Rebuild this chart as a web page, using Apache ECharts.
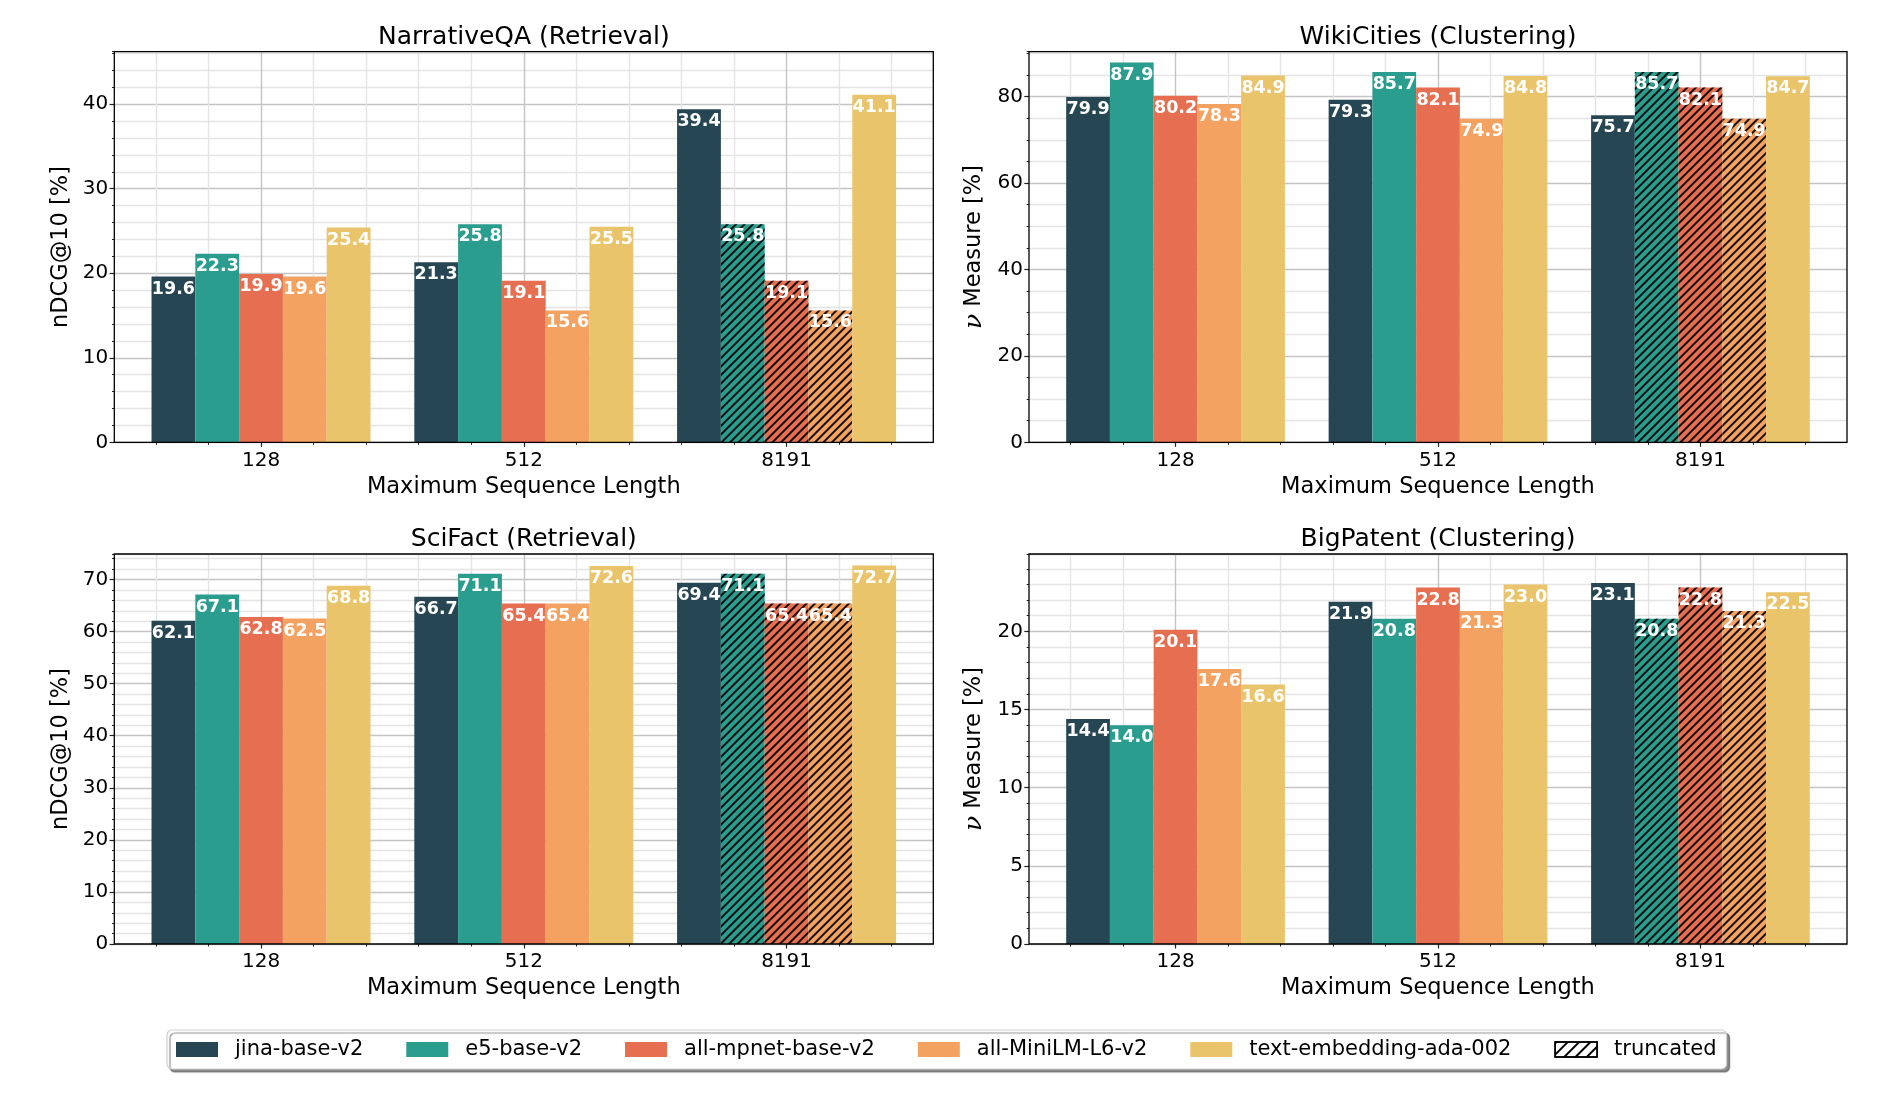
<!DOCTYPE html>
<html>
<head>
<meta charset="utf-8">
<script src="https://cdn.jsdelivr.net/npm/echarts@6/dist/echarts.min.js"></script>
<style>
  html, body { margin: 0; padding: 0; background: #fff; }
  #chart { width: 1900px; height: 1100px; }
</style>
</head>
<body>
<div id="chart"></div>
<script>
// categories and models
const categories = ['128', '512', '8191'];
const models = ['jina-base-v2', 'e5-base-v2', 'all-mpnet-base-v2', 'all-MiniLM-L6-v2', 'text-embedding-ada-002'];
const modelColors = ['#264653', '#2A9D8F', '#E76F51', '#F4A261', '#E9C46A'];
const truncatedModels = ['e5-base-v2', 'all-mpnet-base-v2', 'all-MiniLM-L6-v2'];
const truncatedCategory = '8191';

// NarrativeQA (Retrieval) - nDCG@10
const narrativeJina = [19.6, 21.3, 39.4];
const narrativeE5 = [22.3, 25.8, 25.8];
const narrativeMpnet = [19.9, 19.1, 19.1];
const narrativeMiniLM = [19.6, 15.6, 15.6];
const narrativeAda = [25.4, 25.5, 41.1];

// WikiCities (Clustering) - V measure
const wikiJina = [79.9, 79.3, 75.7];
const wikiE5 = [87.9, 85.7, 85.7];
const wikiMpnet = [80.2, 82.1, 82.1];
const wikiMiniLM = [78.3, 74.9, 74.9];
const wikiAda = [84.9, 84.8, 84.7];

// SciFact (Retrieval) - nDCG@10
const scifactJina = [62.1, 66.7, 69.4];
const scifactE5 = [67.1, 71.1, 71.1];
const scifactMpnet = [62.8, 65.4, 65.4];
const scifactMiniLM = [62.5, 65.4, 65.4];
const scifactAda = [68.8, 72.6, 72.7];

// BigPatent (Clustering) - V measure
const patentJina = [14.4, 21.9, 23.1];
const patentE5 = [14.0, 20.8, 20.8];
const patentMpnet = [20.1, 22.8, 22.8];
const patentMiniLM = [17.6, 21.3, 21.3];
const patentAda = [16.6, 23.0, 22.5];

const FONT = 'DejaVu Sans';
const X_LIM = [-0.55833, 2.55833];   // matplotlib xlim incl. 5% margin
const GRID_MAJOR = '#c4c4c4';
const GRID_MINOR = '#e4e4e4';

const panels = [
  { title: 'NarrativeQA (Retrieval)', yName: 'nDCG@10 [%]', yMax: 46.2, major: 10, minor: 2,
    values: [narrativeJina, narrativeE5, narrativeMpnet, narrativeMiniLM, narrativeAda],
    box: { left: 114.3, right: 933.3, top: 51.7, bottom: 442.3 } },
  { title: 'WikiCities (Clustering)', yName: '{nu|ν} Measure [%]', yMax: 90.4, major: 20, minor: 5,
    values: [wikiJina, wikiE5, wikiMpnet, wikiMiniLM, wikiAda],
    box: { left: 1029, right: 1847, top: 51.7, bottom: 442.3 } },
  { title: 'SciFact (Retrieval)', yName: 'nDCG@10 [%]', yMax: 74.9, major: 10, minor: 2,
    values: [scifactJina, scifactE5, scifactMpnet, scifactMiniLM, scifactAda],
    box: { left: 114.3, right: 933.3, top: 554, bottom: 944 } },
  { title: 'BigPatent (Clustering)', yName: '{nu|ν} Measure [%]', yMax: 24.95, major: 5, minor: 1,
    values: [patentJina, patentE5, patentMpnet, patentMiniLM, patentAda],
    box: { left: 1029, right: 1847, top: 554, bottom: 944 } }
];

const hatch = {
  symbol: 'rect', symbolSize: 1,
  dashArrayX: [1, 0], dashArrayY: [1.3, 3.2],
  rotation: -Math.PI / 4, color: 'rgba(0,0,0,0.9)'
};

const grid = [], xAxis = [], yAxis = [], series = [], title = [];

panels.forEach((p, k) => {
  const b = p.box;
  const w = b.right - b.left, h = b.bottom - b.top;
  const ppu = w / (X_LIM[1] - X_LIM[0]);
  const gF = grid.length, gA = gF + 1, gV = gF + 2;

  // frame grid (border + y axes)
  grid.push({ left: b.left, top: b.top, width: w, height: h, show: true, z: 3,
    backgroundColor: 'transparent', borderColor: '#000', borderWidth: 1.3, outerBoundsMode: 'none' });
  // bar grid, category centers at 0,1,2
  grid.push({ left: b.left + (-0.5 - X_LIM[0]) * ppu, top: b.top, width: 3 * ppu, height: h, outerBoundsMode: 'none' });
  // vertical grid lines from -0.4 to 2.4
  grid.push({ left: b.left + (-0.4 - X_LIM[0]) * ppu, top: b.top, width: 2.8 * ppu, height: h, outerBoundsMode: 'none' });

  const xF = xAxis.length;
  xAxis.push({ gridIndex: gF, type: 'value', show: false, min: 0, max: 1 });
  xAxis.push({ gridIndex: gA, type: 'category', data: categories, position: 'bottom',
    axisLine: { show: false }, splitLine: { show: false },
    axisTick: { show: true, alignWithLabel: true, length: 4.5, lineStyle: { color: '#222', width: 1.2 } },
    axisLabel: { margin: 8, fontSize: 20, color: '#000', fontFamily: FONT },
    name: 'Maximum Sequence Length', nameLocation: 'middle', nameGap: 33, nameMoveOverlap: false,
    nameTextStyle: { fontSize: 22.5, color: '#000', fontFamily: FONT } });
  xAxis.push({ gridIndex: gV, type: 'value', min: -0.4, max: 2.4, interval: 0.2, position: 'bottom',
    axisLine: { show: false }, axisLabel: { show: false },
    axisTick: { show: true, length: 2.5, lineStyle: { color: '#222', width: 1 } },
    splitLine: { show: true, lineStyle: { width: 1.4,
      color: [GRID_MINOR, GRID_MINOR, GRID_MAJOR, GRID_MINOR, GRID_MINOR] } } });

  const yF = yAxis.length;
  const period = p.major / p.minor;
  const cyc = [GRID_MAJOR];
  for (let i = 1; i < period; i++) cyc.push(GRID_MINOR);
  // minor y axis: fine grid lines + short ticks
  yAxis.push({ gridIndex: gF, type: 'value', position: 'left', min: 0, max: p.yMax, interval: p.minor,
    axisLine: { show: false }, axisLabel: { show: false },
    axisTick: { show: true, length: 2.3, lineStyle: { color: '#222', width: 1 } },
    splitLine: { show: true, lineStyle: { width: 1.4, color: cyc } } });
  // major y axis: labels + long ticks + name
  yAxis.push({ gridIndex: gF, type: 'value', position: 'left', min: 0, max: p.yMax, interval: p.major,
    axisLine: { show: false }, splitLine: { show: false },
    axisTick: { show: true, length: 4.7, lineStyle: { color: '#222', width: 1.2 } },
    axisLabel: { margin: 6, fontSize: 20, color: '#000', fontFamily: FONT, showMaxLabel: false },
    name: p.yName, nameLocation: 'middle', nameGap: 42, nameMoveOverlap: false,
    nameTextStyle: { fontSize: 22.5, color: '#000', fontFamily: FONT,
      rich: { nu: { fontSize: 25, fontStyle: 'italic', fontFamily: 'DejaVu Serif', color: '#000' } } } });
  yAxis.push({ gridIndex: gA, type: 'value', show: false, min: 0, max: p.yMax });
  yAxis.push({ gridIndex: gV, type: 'value', show: false, min: 0, max: 1 });

  models.forEach((m, i) => {
    const hatched = truncatedModels.includes(m);
    series.push({
      type: 'bar', name: m, xAxisIndex: xF + 1, yAxisIndex: yF + 2,
      barGap: '0%', barCategoryGap: '16.667%',
      itemStyle: { color: modelColors[i] },
      label: { show: true, position: 'insideTop', distance: 3.5, color: '#fff', fontWeight: 'bold',
        fontSize: 17.5, fontFamily: FONT, formatter: (d) => Number(d.value).toFixed(1) },
      data: p.values[i].map((v, c) => (hatched && categories[c] === truncatedCategory)
        ? { value: v, itemStyle: { decal: hatch } } : v)
    });
  });

  title.push({ text: p.title, left: (b.left + b.right) / 2, top: b.top - 27, textAlign: 'center', padding: 0,
    textStyle: { fontSize: 25, fontWeight: 'normal', color: '#000', fontFamily: FONT } });
});

// hidden grid holding the "truncated" legend entry
const gHidden = grid.length;
grid.push({ left: 0, top: 0, width: 10, height: 10, show: false });
xAxis.push({ gridIndex: gHidden, type: 'category', show: false, data: categories });
yAxis.push({ gridIndex: gHidden, type: 'value', show: false });
series.push({ type: 'bar', name: 'truncated', xAxisIndex: xAxis.length - 1, yAxisIndex: yAxis.length - 1,
  itemStyle: { color: '#fff', borderColor: '#000', borderWidth: 1.3, decal: hatch }, data: [] });

const legendData = models.map(m => ({ name: m }));
legendData.push({ name: 'truncated', itemStyle: { color: '#fff', borderColor: '#000', borderWidth: 1.5,
  decal: { symbol: 'rect', symbolSize: 1, dashArrayX: [1, 0], dashArrayY: [1.4, 6], rotation: -Math.PI / 4, color: '#000' } } });

const chart = echarts.init(document.getElementById('chart'), null, { renderer: 'canvas' });
chart.setOption({
  backgroundColor: '#fff',
  animation: false,
  textStyle: { fontFamily: FONT },
  title,
  grid, xAxis, yAxis, series,
  legend: {
    data: legendData,
    left: 167, top: 1030, orient: 'horizontal',
    icon: 'rect', itemWidth: 42, itemHeight: 15, itemGap: 43,
    padding: [9, 10, 9, 9],
    backgroundColor: '#fff', borderColor: '#cfcfcf', borderWidth: 1.2, borderRadius: 5,
    shadowColor: 'rgba(0,0,0,0.45)', shadowBlur: 1, shadowOffsetX: 3, shadowOffsetY: 3,
    textStyle: { fontSize: 21, color: '#000', fontFamily: FONT, padding: [0, 0, 0, 12] },
    selectedMode: false
  }
});
</script>
</body>
</html>
